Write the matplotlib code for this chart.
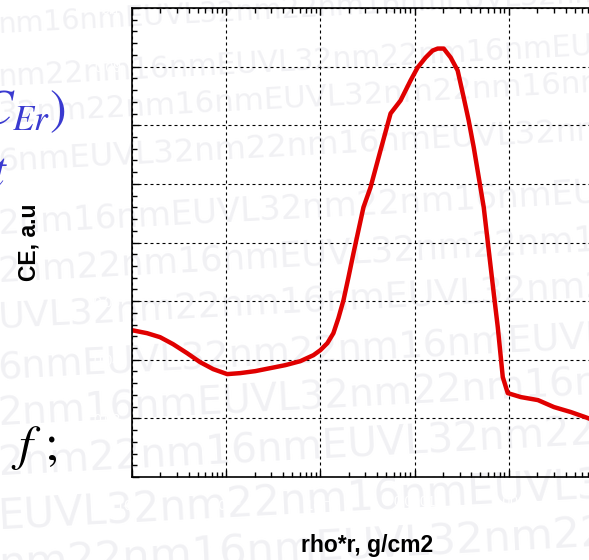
import matplotlib
matplotlib.use("Agg")
import matplotlib.pyplot as plt
from matplotlib.ticker import FixedLocator, FixedFormatter, LogLocator, MultipleLocator
import numpy as np

# curve: log10(rho*r) and CE
rho_r_log10 = [-7.000, -6.840, -6.702, -6.564, -6.415, -6.277, -6.138, -5.989,
               -5.851, -5.691, -5.532, -5.372, -5.213, -5.074, -5.000, -4.926,
               -4.862, -4.809, -4.755, -4.702, -4.649, -4.596, -4.543, -4.468,
               -4.362, -4.255, -4.149, -4.043, -3.968, -3.883, -3.809, -3.755,
               -3.691, -3.617, -3.543, -3.479, -3.426, -3.372, -3.319, -3.266,
               -3.213, -3.160, -3.117, -3.085, -3.064, -3.011, -2.872, -2.691,
               -2.521, -2.340, -2.160, -1.989]
ce = [0.04504, 0.04453, 0.04385, 0.04266, 0.04112, 0.03959, 0.03840, 0.03755,
      0.03772, 0.03806, 0.03857, 0.03908, 0.03976, 0.04078, 0.04164, 0.04283,
      0.04453, 0.04709, 0.05015, 0.05407, 0.05816, 0.06208, 0.06600, 0.06940,
      0.07571, 0.08201, 0.08422, 0.08763, 0.08985, 0.09155, 0.09274, 0.09308,
      0.09308, 0.09155, 0.08934, 0.08474, 0.08082, 0.07622, 0.07111, 0.06600,
      0.05867, 0.05135, 0.04555, 0.04044, 0.03704, 0.03431, 0.03363, 0.03312,
      0.03193, 0.03107, 0.03005, 0.02886]

x_ticks = [1e-7, 1e-6, 1e-5, 1e-4, 1e-3, 1e-2]
x_tick_labels = ["$10^{-7}$", "$10^{-6}$", "$10^{-5}$", "0.0001", "0.001", "0.01"]
y_ticks = [0.02, 0.03, 0.04, 0.05, 0.06, 0.07, 0.08, 0.09, 0.1]
y_tick_labels = ["0.02", "0.03", "0.04", "0.05", "0.06", "0.07", "0.08", "0.09", "0.1"]

watermark = "nm16nmEUVL32nm22"
wm_rows_px = [25, 78, 115, 163, 225, 272, 318, 370, 415, 465, 518, 566]
wm_offsets = [0, 12, 10, 3, 15, 11, 7, 3, 15, 11, 6, 12]

W, H = 589, 560


def main():
    fig = plt.figure(figsize=(W / 100, H / 100), dpi=100)
    fig.patch.set_facecolor("white")

    # faint repeated watermark behind everything, a bit larger towards the bottom
    for y_px, off in zip(wm_rows_px, wm_offsets):
        size = 20 + 11 * y_px / H
        fig.text(-2 / W, 1 - y_px / H, (watermark * 5)[off:], fontsize=size,
                 family="DejaVu Sans", color="#f1f1f4", ha="left", va="center",
                 rotation=3, rotation_mode="anchor", zorder=-5)

    # fragments of slide text on the left
    fig.text(66 / W, 1 - 124 / H, r"$C_{Er})$", fontsize=36, color="#3a3ad0",
             ha="right", va="baseline", math_fontfamily="stix")
    fig.text(8 / W, 1 - 186 / H, r"$t$", fontsize=36, color="#3a3ad0",
             ha="right", va="baseline", math_fontfamily="stix")
    fig.text(11 / W, 1 - 460 / H, r"$f\ ;$", fontsize=36, color="black",
             ha="left", va="baseline", math_fontfamily="stix")

    ax = fig.add_axes([132 / W, (H - 477) / H, (603 - 132) / W, (477 - 8) / H])
    ax.set_facecolor("none")

    ax.plot(np.power(10.0, rho_r_log10), ce, color="#e00000", lw=3.2,
            solid_joinstyle="round", solid_capstyle="round", zorder=3)

    ax.set_xscale("log")
    ax.set_xlim(1e-7, 1e-2)
    ax.set_ylim(0.02, 0.1)

    ax.xaxis.set_major_locator(FixedLocator(x_ticks))
    ax.xaxis.set_major_formatter(FixedFormatter(x_tick_labels))
    ax.xaxis.set_minor_locator(LogLocator(base=10, subs=np.arange(2, 10), numticks=20))
    ax.yaxis.set_major_locator(FixedLocator(y_ticks))
    ax.yaxis.set_major_formatter(FixedFormatter(y_tick_labels))
    ax.yaxis.set_minor_locator(MultipleLocator(0.002))

    ax.tick_params(which="both", direction="in", top=True, right=True,
                   colors="black", labelcolor="white", width=1.0)
    ax.tick_params(which="major", length=5)
    ax.tick_params(which="minor", length=3.5)
    ax.tick_params(axis="y", labelsize=10, pad=8)
    ax.tick_params(axis="x", labelsize=10, pad=13)
    for lab in ax.get_xticklabels() + ax.get_yticklabels():
        lab.set_family("Liberation Sans")

    ax.grid(True, which="major", color="black", lw=0.8, linestyle=(0, (2.7, 2.7)))
    for sp in ax.spines.values():
        sp.set_linewidth(1.2)
        sp.set_zorder(4)

    ax.set_xlabel("rho*r, g/cm2", fontsize=16.5, fontweight="bold",
                  family="Liberation Sans")
    ax.set_ylabel("CE, a.u", fontsize=16.5, fontweight="bold",
                  family="Liberation Sans")
    ax.xaxis.set_label_coords(0.499, -0.1215)
    ax.yaxis.set_label_coords(-0.1953, 0.501)

    fig.savefig("out.png", dpi=100, facecolor="white")


if __name__ == "__main__":
    main()
